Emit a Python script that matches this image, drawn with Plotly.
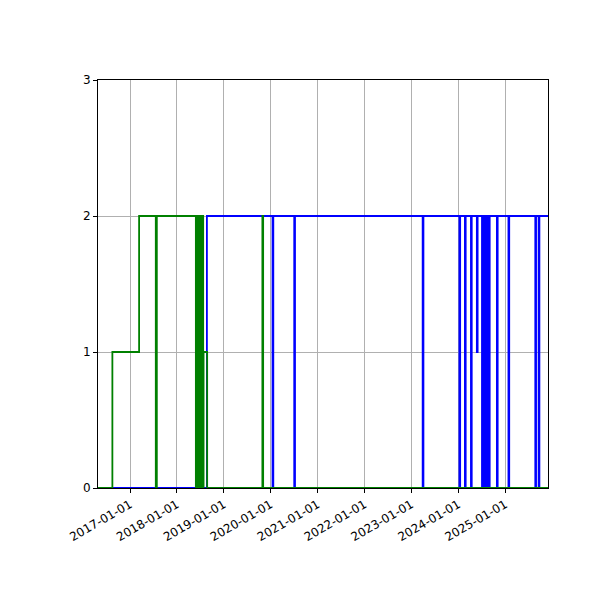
import plotly.graph_objects as go

green_dates = ["2016-04-26", "2016-08-16", "2017-03-12", "2017-07-20", "2017-07-28",
               "2018-05-28", "2018-05-31", "2018-06-03", "2018-06-06", "2018-06-09",
               "2018-06-12", "2018-06-15", "2018-06-18", "2018-06-21", "2018-06-24",
               "2018-06-27", "2018-06-30", "2018-07-03", "2018-07-06", "2018-07-09",
               "2018-07-12", "2018-07-16", "2018-07-20", "2018-07-24", "2018-07-27",
               "2018-08-24", "2019-10-28", "2019-11-03", "2025-11-29"]
green_vals = [0, 1, 2, 0, 2,
              0, 2, 0, 2, 0,
              2, 0, 2, 0, 2,
              0, 2, 0, 2, 0,
              2, 0, 2, 0, 1,
              0, 2, 0, 0]

blue_dates = ["2016-04-26", "2018-08-22", "2020-01-15", "2020-01-21", "2020-07-02",
              "2020-07-08", "2023-03-29", "2023-04-04", "2024-01-09", "2024-01-15",
              "2024-02-21", "2024-02-27", "2024-04-08", "2024-04-14", "2024-05-24",
              "2024-05-30", "2024-07-03", "2024-07-07", "2024-07-11", "2024-07-15",
              "2024-07-19", "2024-07-23", "2024-07-27", "2024-07-31", "2024-08-04",
              "2024-08-08", "2024-08-12", "2024-08-16", "2024-08-20", "2024-08-24",
              "2024-08-28", "2024-09-01", "2024-09-05", "2024-10-27", "2024-11-02",
              "2025-01-25", "2025-01-31", "2025-08-22", "2025-08-28", "2025-09-17",
              "2025-09-23", "2025-11-29"]
blue_vals = [0, 2, 0, 2, 0,
             2, 0, 2, 0, 2,
             0, 2, 0, 2, 1,
             2, 0, 2, 0, 2,
             0, 2, 0, 2, 0,
             2, 0, 2, 0, 2,
             0, 2, 2, 0, 2,
             0, 2, 0, 2, 0,
             2, 2]

tick_vals = ["2017-01-01", "2018-01-01", "2019-01-01", "2020-01-01", "2021-01-01",
             "2022-01-01", "2023-01-01", "2024-01-01", "2025-01-01"]

fig = go.Figure()
fig.add_trace(go.Scatter(x=blue_dates, y=blue_vals, mode="lines", line_shape="hv",
                         line=dict(color="blue", width=1.8), showlegend=False))
fig.add_trace(go.Scatter(x=green_dates, y=green_vals, mode="lines", line_shape="hv",
                         line=dict(color="green", width=1.8), showlegend=False))

axis_common = dict(showline=True, linecolor="black", linewidth=1, mirror=True,
                   ticks="outside", ticklen=4, tickcolor="black", automargin=False,
                   showgrid=True, gridcolor="#b0b0b0", gridwidth=1,
                   tickfont=dict(family="DejaVu Sans", size=12, color="black"),
                   zeroline=False)
fig.update_xaxes(range=["2016-04-26", "2025-11-29"], tickvals=tick_vals, ticktext=tick_vals,
                 tickangle=-30, **axis_common)
fig.update_yaxes(range=[0, 3], tickvals=[0, 1, 2, 3], **axis_common)
fig.update_layout(width=600, height=600, plot_bgcolor="white", paper_bgcolor="white",
                  margin=dict(l=90, r=60, t=72, b=120))
fig.write_html("out.html")
